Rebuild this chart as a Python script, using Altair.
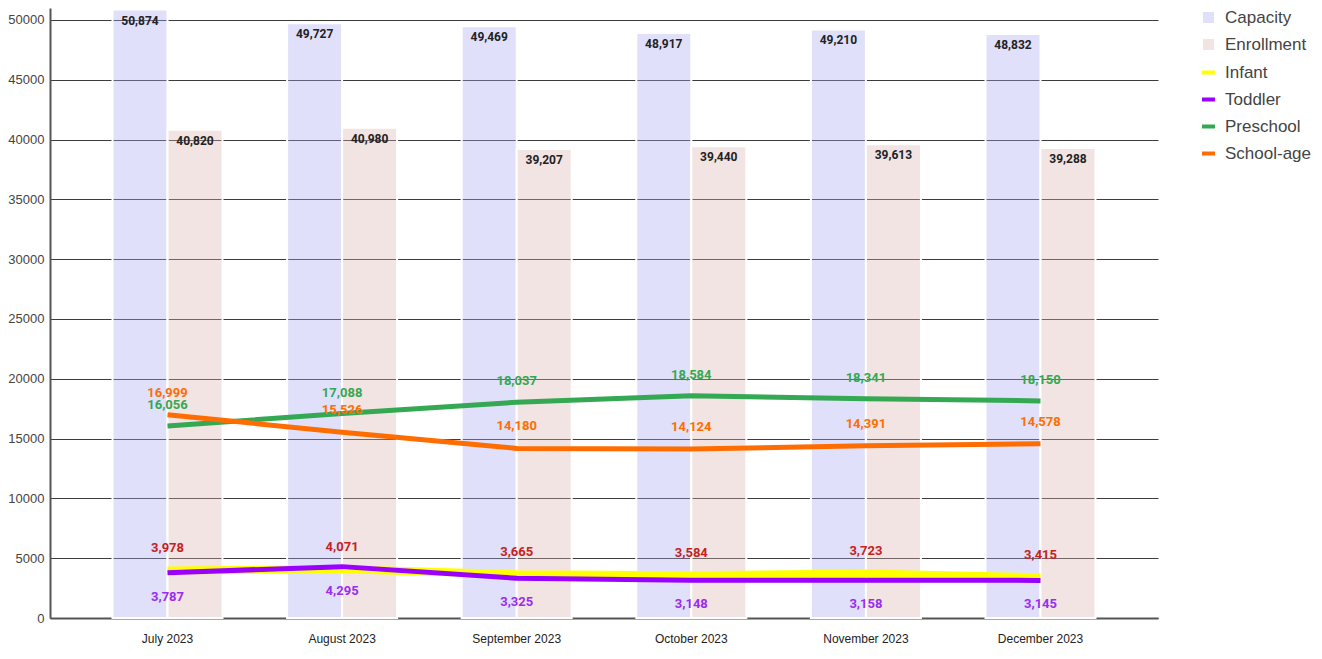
import altair as alt
import pandas as pd

months = ["July 2023", "August 2023", "September 2023", "October 2023",
          "November 2023", "December 2023"]
capacity = [50874, 49727, 49469, 48917, 49210, 48832]
enrollment = [40820, 40980, 39207, 39440, 39613, 39288]
infant = [3978, 4071, 3665, 3584, 3723, 3415]
toddler = [3787, 4295, 3325, 3148, 3158, 3145]
preschool = [16056, 17088, 18037, 18584, 18341, 18150]
school_age = [16999, 15526, 14180, 14124, 14391, 14578]

bar_series = ["Capacity", "Enrollment"]
bar_colors = ["#a6a6f4", "#d7b2ac"]
line_series = ["Infant", "Toddler", "Preschool", "School-age"]
line_values = [infant, toddler, preschool, school_age]
line_colors = ["#ffff00", "#9900ff", "#34a853", "#ff6d01"]
label_colors = ["#c5221f", "#9b2cf0", "#34a853", "#ff6d01"]
line_widths = [8, 5, 5, 5]
label_dy = [-22, 24, -21, -22]

bars_df = pd.DataFrame({
    "month": months * 2,
    "series": [bar_series[0]] * len(months) + [bar_series[1]] * len(months),
    "value": capacity + enrollment,
})

lines_df = pd.DataFrame({
    "month": [m for _ in line_series for m in months],
    "series": [s for s in line_series for _ in months],
    "value": [v for vals in line_values for v in vals],
})

x_enc = alt.X(
    "month:N", sort=months,
    scale=alt.Scale(paddingInner=0.37, paddingOuter=0.358),
    axis=alt.Axis(title=None, labelAngle=0, ticks=False, labelPadding=15,
                  labelFontSize=12, labelColor="#222", labelFont="Liberation Sans",
                  domainColor="#555", domainWidth=2, grid=False),
)
y_enc = alt.Y(
    "value:Q",
    scale=alt.Scale(domain=[0, 51000], nice=False),
    axis=alt.Axis(title=None, values=list(range(0, 50001, 5000)), format="d",
                  ticks=False, grid=True, gridColor="#3c3c3c", gridWidth=1,
                  labelFontSize=13, labelColor="#444", labelFont="Liberation Sans",
                  labelPadding=6, domainColor="#555", domainWidth=2),
)

bars = alt.Chart(bars_df).mark_bar(fillOpacity=0.35, stroke="white", strokeWidth=2).encode(
    x=x_enc,
    xOffset=alt.XOffset("series:N", sort=bar_series,
                        scale=alt.Scale(paddingInner=0, paddingOuter=0)),
    y=y_enc,
    fill=alt.Fill("series:N", sort=bar_series,
                  scale=alt.Scale(domain=bar_series, range=bar_colors),
                  legend=alt.Legend(title=None, orient="none", legendX=1150, legendY=1,
                                    symbolType="square", symbolSize=121,
                                    symbolStrokeWidth=0, symbolOpacity=0.35,
                                    labelFont="Liberation Sans", labelFontSize=17,
                                    labelColor="#444", labelOffset=8, rowPadding=9,
                                    padding=0)),
)

bar_labels = alt.Chart(bars_df).mark_text(
    dy=11, baseline="middle", font="Roboto", fontWeight="bold", fontSize=12, color="#222"
).encode(
    x=alt.X("month:N", sort=months),
    xOffset=alt.XOffset("series:N", sort=bar_series),
    y=alt.Y("value:Q"),
    text=alt.Text("value:Q", format=","),
)

layers = [bars, bar_labels]

stroke_scale = alt.Scale(domain=line_series, range=line_colors)
for i, s in enumerate(line_series):
    sub = lines_df[lines_df["series"] == s]
    ln = alt.Chart(sub).mark_line(strokeWidth=line_widths[i]).encode(
        x=alt.X("month:N", sort=months),
        y=alt.Y("value:Q"),
        stroke=alt.Stroke("series:N", scale=stroke_scale,
                          legend=alt.Legend(title=None, orient="none", legendX=1150,
                                            legendY=56, symbolType="stroke",
                                            symbolSize=169, symbolStrokeWidth=4,
                                            labelFont="Liberation Sans",
                                            labelFontSize=17, labelColor="#444",
                                            labelOffset=8, rowPadding=9, padding=0)),
    )
    layers.append(ln)

for i, s in enumerate(line_series):
    sub = lines_df[lines_df["series"] == s]
    tx = alt.Chart(sub).mark_text(
        dy=label_dy[i], baseline="middle", font="Roboto", fontWeight="bold",
        fontSize=13, color=label_colors[i]
    ).encode(
        x=alt.X("month:N", sort=months),
        y=alt.Y("value:Q"),
        text=alt.Text("value:Q", format=","),
    )
    layers.append(tx)

chart = alt.layer(*layers).properties(
    width=1108, height=610,
    autosize=alt.AutoSizeParams(type="none"),
    padding={"left": 42, "top": 0, "right": 156, "bottom": 28},
    background="white",
).configure_view(stroke=None)

chart.save("out.html", embed_options={"renderer": "svg", "actions": False})
